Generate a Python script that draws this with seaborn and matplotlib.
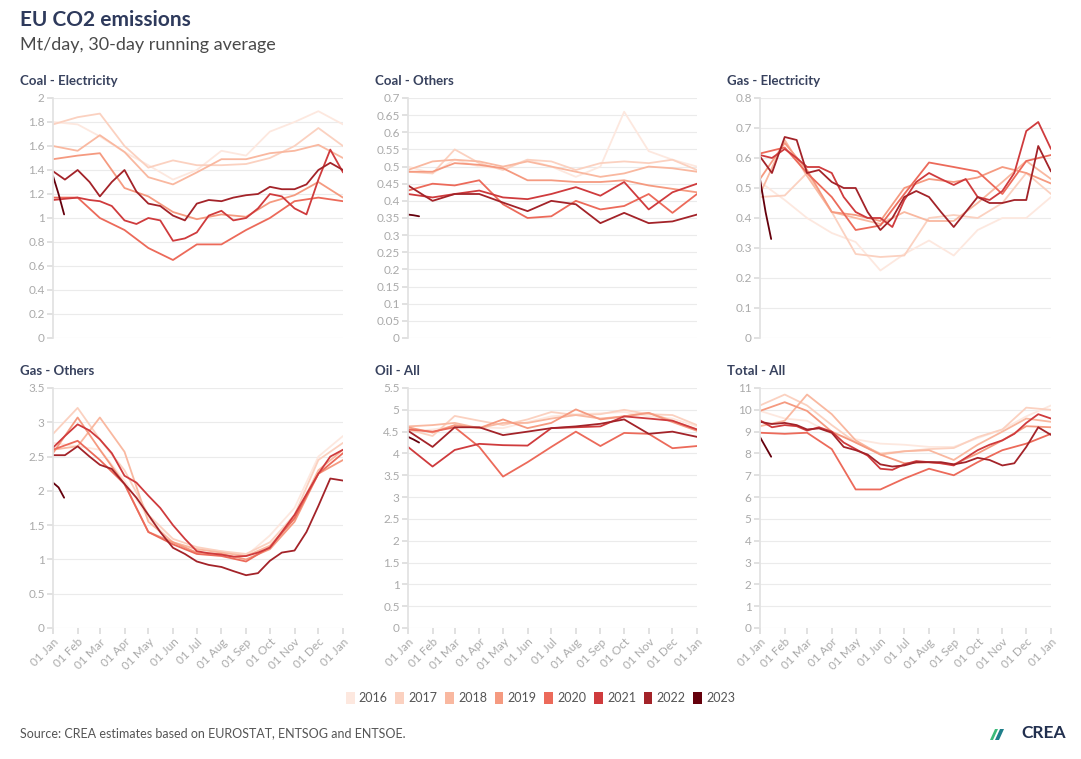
import numpy as np
import pandas as pd
import matplotlib
matplotlib.use("Agg")
import matplotlib.pyplot as plt
import seaborn as sns
from matplotlib.patches import Patch, Polygon

# Years and their colours (light -> dark reds)
years = [2016, 2017, 2018, 2019, 2020, 2021, 2022, 2023]
year_colors = ["#fde8df", "#fbd1c0", "#f9b8a0", "#f59a80",
               "#ec6a5a", "#cf3b3d", "#a32329", "#65000c"]

# x grids (day of year)
month_days = [0, 31, 59, 90, 120, 151, 181, 212, 243, 273, 304, 334, 365]
month_labels = ["01 Jan", "01 Feb", "01 Mar", "01 Apr", "01 May", "01 Jun", "01 Jul",
                "01 Aug", "01 Sep", "01 Oct", "01 Nov", "01 Dec", "01 Jan"]
half_month_days = sorted(month_days + [d + 15 for d in month_days[:-1]])
jan_days = [0, 7, 14]

# Coal - Electricity
coal_elec = {
    2016: [1.80, 1.78, 1.68, 1.55, 1.44, 1.32, 1.40, 1.56, 1.52, 1.72, 1.80, 1.89, 1.78],
    2017: [1.78, 1.84, 1.87, 1.60, 1.42, 1.48, 1.44, 1.44, 1.45, 1.50, 1.60, 1.75, 1.60],
    2018: [1.60, 1.56, 1.69, 1.55, 1.34, 1.28, 1.38, 1.49, 1.49, 1.54, 1.56, 1.61, 1.50],
    2019: [1.49, 1.52, 1.54, 1.25, 1.18, 1.05, 0.99, 1.03, 1.01, 1.13, 1.19, 1.30, 1.17],
    2020: [1.17, 1.17, 1.00, 0.90, 0.75, 0.65, 0.78, 0.78, 0.90, 1.00, 1.14, 1.17, 1.14],
    2021: [1.15, 1.16, 1.17, 1.15, 1.14, 1.10, 0.98, 0.95, 1.00, 0.98, 0.81, 0.83, 0.88,
           1.02, 1.06, 0.98, 1.00, 1.08, 1.20, 1.18, 1.08, 1.03, 1.32, 1.57, 1.38],
    2022: [1.39, 1.32, 1.40, 1.30, 1.18, 1.30, 1.40, 1.22, 1.12, 1.10, 1.02, 0.98, 1.12,
           1.15, 1.14, 1.17, 1.19, 1.20, 1.26, 1.24, 1.24, 1.28, 1.40, 1.46, 1.40],
    2023: [1.35, 1.20, 1.03],
}

# Coal - Others
coal_other = {
    2016: [0.50, 0.48, 0.52, 0.50, 0.495, 0.52, 0.50, 0.47, 0.50, 0.66, 0.545, 0.52, 0.50],
    2017: [0.485, 0.48, 0.55, 0.51, 0.49, 0.52, 0.515, 0.49, 0.51, 0.515, 0.51, 0.52, 0.49],
    2018: [0.49, 0.515, 0.52, 0.515, 0.50, 0.515, 0.50, 0.485, 0.47, 0.48, 0.50, 0.495, 0.485],
    2019: [0.485, 0.485, 0.51, 0.505, 0.495, 0.46, 0.46, 0.455, 0.455, 0.46, 0.445, 0.435, 0.425],
    2020: [0.43, 0.45, 0.445, 0.46, 0.39, 0.35, 0.355, 0.40, 0.375, 0.385, 0.42, 0.365, 0.42],
    2021: [0.42, 0.41, 0.42, 0.43, 0.41, 0.405, 0.42, 0.44, 0.415, 0.455, 0.375, 0.425, 0.45],
    2022: [0.445, 0.40, 0.42, 0.42, 0.395, 0.37, 0.40, 0.39, 0.335, 0.365, 0.335, 0.34, 0.36],
    2023: [0.36, 0.358, 0.355],
}

# Gas - Electricity
gas_elec = {
    2016: [0.52, 0.46, 0.40, 0.35, 0.32, 0.225, 0.28, 0.325, 0.275, 0.36, 0.40, 0.40, 0.47],
    2017: [0.47, 0.475, 0.55, 0.42, 0.28, 0.27, 0.275, 0.40, 0.41, 0.40, 0.45, 0.55, 0.48],
    2018: [0.48, 0.66, 0.54, 0.42, 0.40, 0.38, 0.42, 0.39, 0.39, 0.45, 0.52, 0.59, 0.53],
    2019: [0.53, 0.65, 0.56, 0.42, 0.41, 0.39, 0.50, 0.53, 0.52, 0.535, 0.57, 0.55, 0.515],
    2020: [0.615, 0.635, 0.55, 0.47, 0.36, 0.375, 0.48, 0.585, 0.57, 0.555, 0.48, 0.59, 0.61],
    2021: [0.61, 0.60, 0.63, 0.60, 0.57, 0.57, 0.55, 0.47, 0.42, 0.40, 0.40, 0.37, 0.46,
           0.52, 0.55, 0.53, 0.51, 0.53, 0.47, 0.46, 0.49, 0.55, 0.69, 0.72, 0.63],
    2022: [0.605, 0.55, 0.67, 0.66, 0.55, 0.56, 0.52, 0.50, 0.50, 0.42, 0.36, 0.40, 0.47,
           0.49, 0.47, 0.42, 0.37, 0.42, 0.47, 0.45, 0.45, 0.46, 0.46, 0.64, 0.555],
    2023: [0.53, 0.42, 0.33],
}

# Gas - Others
gas_other = {
    2016: [2.70, 2.65, 2.60, 2.15, 1.60, 1.25, 1.15, 1.12, 1.05, 1.35, 1.75, 2.50, 2.80],
    2017: [2.83, 3.21, 2.75, 2.30, 1.65, 1.30, 1.18, 1.12, 1.08, 1.25, 1.65, 2.45, 2.70],
    2018: [2.60, 2.65, 3.07, 2.57, 1.55, 1.25, 1.15, 1.10, 1.05, 1.20, 1.60, 2.30, 2.60],
    2019: [2.55, 3.07, 2.60, 2.10, 1.40, 1.25, 1.10, 1.08, 1.00, 1.15, 1.55, 2.25, 2.45],
    2020: [2.60, 2.73, 2.45, 2.10, 1.40, 1.22, 1.08, 1.05, 0.97, 1.18, 1.60, 2.25, 2.55],
    2021: [2.63, 2.80, 2.97, 2.88, 2.75, 2.55, 2.22, 2.12, 1.93, 1.75, 1.50, 1.30, 1.12,
           1.09, 1.07, 1.04, 1.05, 1.10, 1.17, 1.40, 1.65, 1.95, 2.25, 2.50, 2.60],
    2022: [2.52, 2.52, 2.65, 2.50, 2.38, 2.32, 2.10, 1.90, 1.65, 1.40, 1.17, 1.08, 0.97,
           0.92, 0.89, 0.83, 0.77, 0.80, 0.98, 1.10, 1.13, 1.40, 1.78, 2.18, 2.15],
    2023: [2.12, 2.05, 1.90],
}

# Oil - All
oil_all = {
    2016: [4.50, 4.55, 4.62, 4.60, 4.58, 4.72, 4.85, 4.90, 4.92, 4.95, 4.85, 4.80, 4.62],
    2017: [4.55, 4.40, 4.86, 4.75, 4.65, 4.78, 4.95, 4.88, 4.90, 5.00, 4.90, 4.88, 4.65],
    2018: [4.62, 4.65, 4.70, 4.58, 4.70, 4.70, 4.80, 4.88, 4.80, 4.85, 4.93, 4.75, 4.55],
    2019: [4.60, 4.48, 4.65, 4.58, 4.78, 4.58, 4.70, 5.01, 4.78, 4.85, 4.93, 4.72, 4.52],
    2020: [4.55, 4.50, 4.60, 4.15, 3.47, 3.80, 4.15, 4.50, 4.17, 4.47, 4.45, 4.12, 4.17],
    2021: [4.15, 3.70, 4.08, 4.22, 4.19, 4.18, 4.58, 4.60, 4.62, 4.85, 4.80, 4.75, 4.55],
    2022: [4.52, 4.15, 4.60, 4.60, 4.42, 4.50, 4.58, 4.62, 4.68, 4.78, 4.45, 4.50, 4.38],
    2023: [4.38, 4.32, 4.25],
}

# Total - All
total_all = {
    2016: [9.95, 9.60, 9.50, 8.90, 8.65, 8.45, 8.40, 8.30, 8.30, 8.70, 9.10, 9.70, 10.2],
    2017: [10.2, 10.7, 10.2, 9.30, 8.50, 8.00, 8.10, 8.20, 8.25, 8.75, 9.10, 10.1, 10.0],
    2018: [9.25, 9.50, 10.7, 9.80, 8.60, 7.95, 8.10, 8.15, 7.70, 8.40, 9.00, 9.60, 9.45],
    2019: [9.95, 10.35, 9.95, 9.00, 8.50, 7.95, 7.55, 7.60, 7.50, 8.00, 8.60, 9.25, 9.20],
    2020: [8.95, 8.90, 8.95, 8.20, 6.35, 6.35, 6.85, 7.30, 7.00, 7.60, 8.15, 8.45, 8.90],
    2021: [9.52, 9.20, 9.30, 9.25, 9.05, 9.20, 9.00, 8.50, 8.20, 7.90, 7.30, 7.25, 7.50,
           7.65, 7.60, 7.55, 7.45, 7.80, 8.15, 8.40, 8.60, 8.90, 9.40, 9.80, 9.60],
    2022: [9.45, 9.35, 9.40, 9.30, 9.10, 9.15, 8.95, 8.30, 8.15, 7.95, 7.50, 7.40, 7.45,
           7.60, 7.60, 7.60, 7.50, 7.60, 7.80, 7.70, 7.45, 7.55, 8.30, 9.20, 8.85],
    2023: [8.75, 8.30, 7.85],
}

panel_titles = ["Coal - Electricity", "Coal - Others", "Gas - Electricity",
                "Gas - Others", "Oil - All", "Total - All"]
panel_data = [coal_elec, coal_other, gas_elec, gas_other, oil_all, total_all]
panel_ymax = [2.0, 0.7, 0.8, 3.5, 5.5, 11]
panel_ystep = [0.2, 0.05, 0.1, 0.5, 0.5, 1]


def to_frame(series):
    rows = []
    for yr, vals in series.items():
        if len(vals) == 13:
            days = month_days
        elif len(vals) == 25:
            days = half_month_days
        else:
            days = jan_days
        for d, v in zip(days, vals):
            rows.append({"day": d, "value": v, "year": yr})
    return pd.DataFrame(rows)


sns.set_theme(style="white")
plt.rcParams["font.family"] = ["Lato", "DejaVu Sans"]

W, H = 1081, 759
fig = plt.figure(figsize=(W / 100, H / 100), dpi=100)

col_left = [53, 408, 760]
col_width = [290, 289, 291]
row_top = [98, 388]
ax_h = 240
palette = dict(zip(years, year_colors))

for i, (title, series) in enumerate(zip(panel_titles, panel_data)):
    r, c = divmod(i, 3)
    rect = [col_left[c] / W, 1 - (row_top[r] + ax_h) / H, col_width[c] / W, ax_h / H]
    ax = fig.add_axes(rect)
    df = to_frame(series)
    sns.lineplot(data=df, x="day", y="value", hue="year", palette=palette,
                 ax=ax, linewidth=1.3, errorbar=None, legend=False)
    ymax, step = panel_ymax[i], panel_ystep[i]
    ticks = np.arange(0, ymax + step / 2, step)
    ax.set_ylim(0, ymax)
    ax.set_yticks(ticks)
    ax.set_yticklabels([f"{round(t, 2):g}" for t in ticks])
    ax.set_xlim(0, 365)
    ax.set_xticks(month_days)
    ax.set_xlabel("")
    ax.set_ylabel("")
    ax.yaxis.grid(True, color="#ebebeb", linewidth=0.8)
    ax.xaxis.grid(False)
    for s in ["top", "right", "bottom"]:
        ax.spines[s].set_visible(False)
    ax.spines["left"].set_color("#e2e2e2")
    ax.tick_params(axis="y", length=4, color="#dddddd", labelcolor="#aaaaaa",
                   labelsize=8.5, pad=2, left=True)
    if r == 1:
        ax.set_xticklabels(month_labels)
        ax.tick_params(axis="x", length=4, color="#dddddd", labelcolor="#aaaaaa",
                       labelsize=8.5, pad=2, bottom=True)
        plt.setp(ax.get_xticklabels(), rotation=45, ha="right", rotation_mode="anchor")
    else:
        ax.set_xticklabels([])
        ax.tick_params(axis="x", length=0)
    ax.annotate(title, xy=(0, 1), xycoords="axes fraction",
                xytext=(-33 * 0.72, 17 * 0.72), textcoords="offset points",
                ha="left", va="center", fontsize=9.5, fontweight="bold", color="#38425e")

# Titles
fig.text(20 / W, 1 - 20 / H, "EU CO2 emissions", fontsize=15, fontweight="bold",
         color="#2e3a5c", va="center", ha="left")
fig.text(20 / W, 1 - 45 / H, "Mt/day, 30-day running average", fontsize=13,
         color="#4a4a4a", va="center", ha="left")

# Legend
handles = [Patch(facecolor=col, edgecolor="none") for col in year_colors]
fig.legend(handles, [str(y) for y in years], loc="center",
           bbox_to_anchor=(0.5, 1 - 698 / H), ncol=8, frameon=False, fontsize=9,
           handlelength=0.7, handleheight=1.1, handletextpad=0.35, columnspacing=0.6,
           labelcolor="#555555")

# Source and logo
fig.text(20 / W, 1 - 733 / H, "Source: CREA estimates based on EUROSTAT, ENTSOG and ENTSOE.",
         fontsize=9, color="#555555", va="center", ha="left")
fig.text(1066 / W, 1 - 733 / H, "CREA", fontsize=12.5, fontweight="bold",
         color="#22304f", va="center", ha="right")
leaf1 = [(990, 740), (995, 729), (998, 729), (993, 740)]
leaf2 = [(995, 740), (1000, 729), (1004, 729), (999, 740)]
for pts, col in [(leaf1, "#3dbb7a"), (leaf2, "#1f7f8a")]:
    fig.patches.append(Polygon([(x / W, 1 - y / H) for x, y in pts], closed=True,
                               facecolor=col, edgecolor="none",
                               transform=fig.transFigure, figure=fig))

fig.savefig("out.png", dpi=100)
